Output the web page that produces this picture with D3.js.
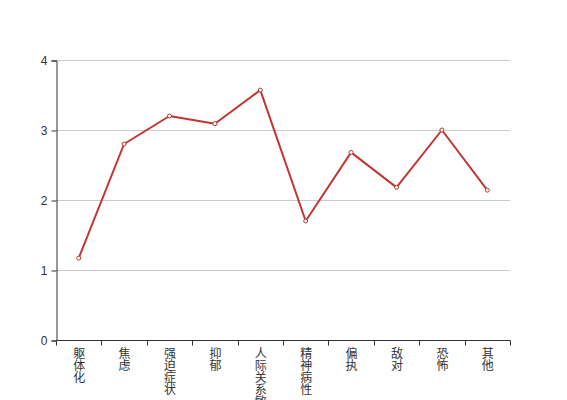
<!DOCTYPE html>
<html>
<head>
<meta charset="utf-8">
<script src="https://cdn.jsdelivr.net/npm/d3@7"></script>
<style>
  body { margin: 0; background: #fff; }
  svg text { font-family: "Liberation Sans", "Noto Sans CJK SC", sans-serif; }
  svg text.lbl { font-family: "Noto Sans CJK SC", sans-serif; writing-mode: vertical-rl; text-orientation: upright; }
</style>
</head>
<body>
<svg width="567" height="400"></svg>
<script>
// 各因子均分
var categories = ["躯体化", "焦虑", "强迫症状", "抑郁", "人际关系敏感", "精神病性", "偏执", "敌对", "恐怖", "其他"];
var scores = [1.17, 2.80, 3.20, 3.09, 3.57, 1.70, 2.68, 2.18, 3.00, 2.14];
var yTicks = [0, 1, 2, 3, 4];

var svg = d3.select("svg"),
    margin = { top: 60, right: 57, bottom: 60, left: 56 },
    width = +svg.attr("width") - margin.left - margin.right,
    height = +svg.attr("height") - margin.top - margin.bottom;

var g = svg.append("g")
    .attr("transform", "translate(" + margin.left + "," + margin.top + ")");

var x = d3.scaleBand().domain(categories).range([0, width]);
var y = d3.scaleLinear().domain([0, 4]).range([height, 0]);

// grid
g.append("g")
  .selectAll("line")
  .data(yTicks)
  .enter().append("line")
    .attr("x1", 0).attr("x2", width)
    .attr("y1", function(d) { return Math.round(y(d)) + 0.5; })
    .attr("y2", function(d) { return Math.round(y(d)) + 0.5; })
    .attr("stroke", "#ccc");

// y axis
var yAxis = g.append("g")
    .attr("transform", "translate(0.5,0.5)")
    .call(d3.axisLeft(y).tickValues(yTicks).tickSize(5).tickPadding(4).tickFormat(d3.format("d")));
yAxis.select(".domain").attr("stroke", "#333");
yAxis.selectAll(".tick line").attr("stroke", "#333");
yAxis.selectAll(".tick text").attr("fill", "#333").style("font-size", "12px");

// x axis
var xAxis = g.append("g")
    .attr("transform", "translate(0.5," + (height + 0.5) + ")");
xAxis.append("line")
    .attr("x1", 0).attr("x2", width)
    .attr("stroke", "#333");
xAxis.selectAll(".tk")
  .data(d3.range(categories.length + 1))
  .enter().append("line")
    .attr("class", "tk")
    .attr("x1", function(i) { return Math.round(i * x.bandwidth()); })
    .attr("x2", function(i) { return Math.round(i * x.bandwidth()); })
    .attr("y1", 0).attr("y2", 5)
    .attr("stroke", "#333");

// 竖排标签
xAxis.selectAll(".lbl")
  .data(categories)
  .enter().append("text")
    .attr("class", "lbl")
    .attr("x", function(d) { return x(d) + x.bandwidth() / 2; })
    .attr("y", 7)
    .attr("fill", "#333")
    .style("font-size", "12px")
    .text(function(d) { return d; });

// line
var line = d3.line()
    .x(function(d, i) { return x(categories[i]) + x.bandwidth() / 2; })
    .y(function(d) { return y(d); });

g.append("path")
    .datum(scores)
    .attr("fill", "none")
    .attr("stroke", "#c23531")
    .attr("stroke-width", 2)
    .attr("stroke-linejoin", "round")
    .attr("d", line);

g.selectAll(".dot")
  .data(scores)
  .enter().append("circle")
    .attr("class", "dot")
    .attr("cx", function(d, i) { return x(categories[i]) + x.bandwidth() / 2; })
    .attr("cy", function(d) { return y(d); })
    .attr("r", 2)
    .attr("fill", "#fff")
    .attr("stroke", "#c23531")
    .attr("stroke-width", 1);
</script>
</body>
</html>
